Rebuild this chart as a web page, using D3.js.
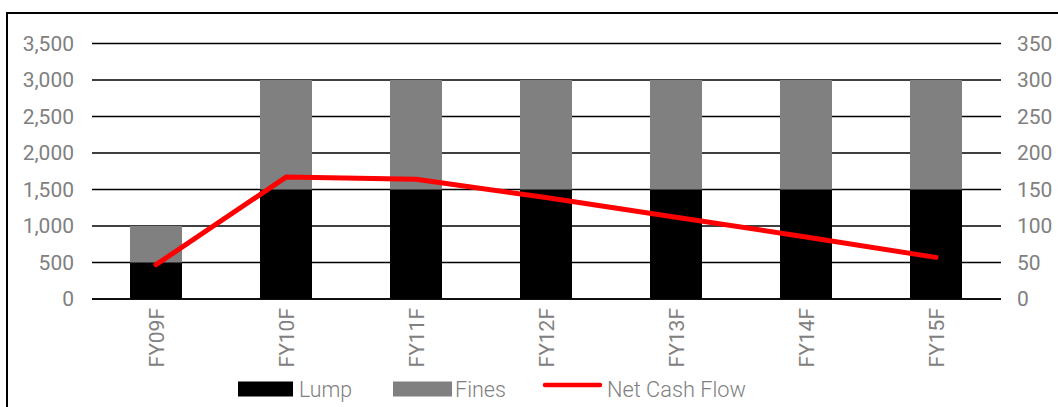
<!DOCTYPE html>
<html>
<head>
<meta charset="utf-8">
<script src="https://cdn.jsdelivr.net/npm/d3@7"></script>
<style>
  html, body { margin: 0; padding: 0; background: #fff; }
  svg { display: block; }
</style>
</head>
<body>
<div id="chart"></div>
<script>
const categories = ['FY09F', 'FY10F', 'FY11F', 'FY12F', 'FY13F', 'FY14F', 'FY15F'];
const lump = [500, 1500, 1500, 1500, 1500, 1500, 1500];
const fines = [500, 1500, 1500, 1500, 1500, 1500, 1500];
const netCashFlow = [47, 167, 164, 139, 112, 85, 57];
const leftTicks = [0, 500, 1000, 1500, 2000, 2500, 3000, 3500];
const rightTicks = [0, 50, 100, 150, 200, 250, 300, 350];

const W = 1058, H = 407;
const plot = { left: 92, right: 1001, top: 43.5, bottom: 299 };
const tickFont = 'Roboto, "DejaVu Sans", sans-serif';
const grey = '#808080';

const svg = d3.select('#chart').append('svg').attr('width', W).attr('height', H);

// frame
svg.append('rect').attr('x', 7).attr('y', 13).attr('width', W + 10).attr('height', H + 10)
  .attr('fill', 'none').attr('stroke', '#000').attr('stroke-width', 2);

const x = d3.scaleBand().domain(categories).range([91, 1001]).paddingInner(0.6).paddingOuter(0.3);
const yL = d3.scaleLinear().domain([0, 3500]).range([plot.bottom, plot.top]);
const yR = d3.scaleLinear().domain([0, 350]).range([plot.bottom, plot.top]);

// gridlines
svg.append('g').selectAll('line').data(leftTicks).join('line')
  .attr('x1', plot.left).attr('x2', plot.right)
  .attr('y1', d => yL(d)).attr('y2', d => yL(d))
  .attr('stroke', '#000').attr('stroke-width', 1.6);

// left axis
const axL = svg.append('g').attr('transform', `translate(${plot.left - 18},0)`)
  .call(d3.axisLeft(yL).tickValues(leftTicks).tickSize(0).tickPadding(0).tickFormat(d3.format(',')));
axL.select('.domain').remove();
axL.selectAll('text').attr('font-family', tickFont).attr('font-size', 21).attr('fill', grey);

// right axis
const axR = svg.append('g').attr('transform', `translate(${plot.right + 16},0)`)
  .call(d3.axisRight(yR).tickValues(rightTicks).tickSize(0).tickPadding(0));
axR.select('.domain').remove();
axR.selectAll('text').attr('font-family', tickFont).attr('font-size', 21).attr('fill', grey);

// stacked bars
const rows = categories.map((c, i) => ({ cat: c, Lump: lump[i], Fines: fines[i] }));
const stack = d3.stack().keys(['Lump', 'Fines'])(rows);
const colors = { Lump: '#000000', Fines: '#808080' };
svg.append('g').selectAll('g').data(stack).join('g')
  .attr('fill', s => colors[s.key])
  .selectAll('rect').data(s => s).join('rect')
  .attr('x', d => x(d.data.cat)).attr('width', x.bandwidth())
  .attr('y', d => yL(d[1])).attr('height', d => yL(d[0]) - yL(d[1]));

// baseline over bars
svg.append('line').attr('x1', plot.left).attr('x2', plot.right)
  .attr('y1', yL(0)).attr('y2', yL(0)).attr('stroke', '#000').attr('stroke-width', 1.6);

// net cash flow line
const line = d3.line().x((d, i) => x(categories[i]) + x.bandwidth() / 2).y(d => yR(d));
svg.append('path').datum(netCashFlow).attr('d', line)
  .attr('fill', 'none').attr('stroke', '#ff0000').attr('stroke-width', 5)
  .attr('stroke-linecap', 'round').attr('stroke-linejoin', 'round');

// x labels
svg.append('g').selectAll('text').data(categories).join('text')
  .attr('transform', d => `translate(${x(d) + x.bandwidth() / 2 + 8},${308}) rotate(-90)`)
  .attr('text-anchor', 'end')
  .attr('font-family', tickFont).attr('font-size', 21).attr('fill', grey)
  .text(d => d);

// legend
const leg = svg.append('g').attr('font-family', tickFont).attr('font-size', 22)
  .attr('font-weight', 300).attr('fill', grey);
leg.append('rect').attr('x', 238).attr('y', 381.5).attr('width', 55).attr('height', 15).attr('fill', '#000');
leg.append('text').attr('x', 299).attr('y', 397).attr('textLength', 53).attr('lengthAdjust', 'spacingAndGlyphs').text('Lump');
leg.append('rect').attr('x', 393).attr('y', 381.5).attr('width', 59).attr('height', 15).attr('fill', '#808080');
leg.append('text').attr('x', 455).attr('y', 397).attr('textLength', 51).attr('lengthAdjust', 'spacingAndGlyphs').text('Fines');
leg.append('line').attr('x1', 545).attr('x2', 600).attr('y1', 385).attr('y2', 385)
  .attr('stroke', '#ff0000').attr('stroke-width', 4.5).attr('stroke-linecap', 'round');
leg.append('text').attr('x', 607).attr('y', 397).attr('textLength', 139).attr('lengthAdjust', 'spacingAndGlyphs').text('Net Cash Flow');
</script>
</body>
</html>
